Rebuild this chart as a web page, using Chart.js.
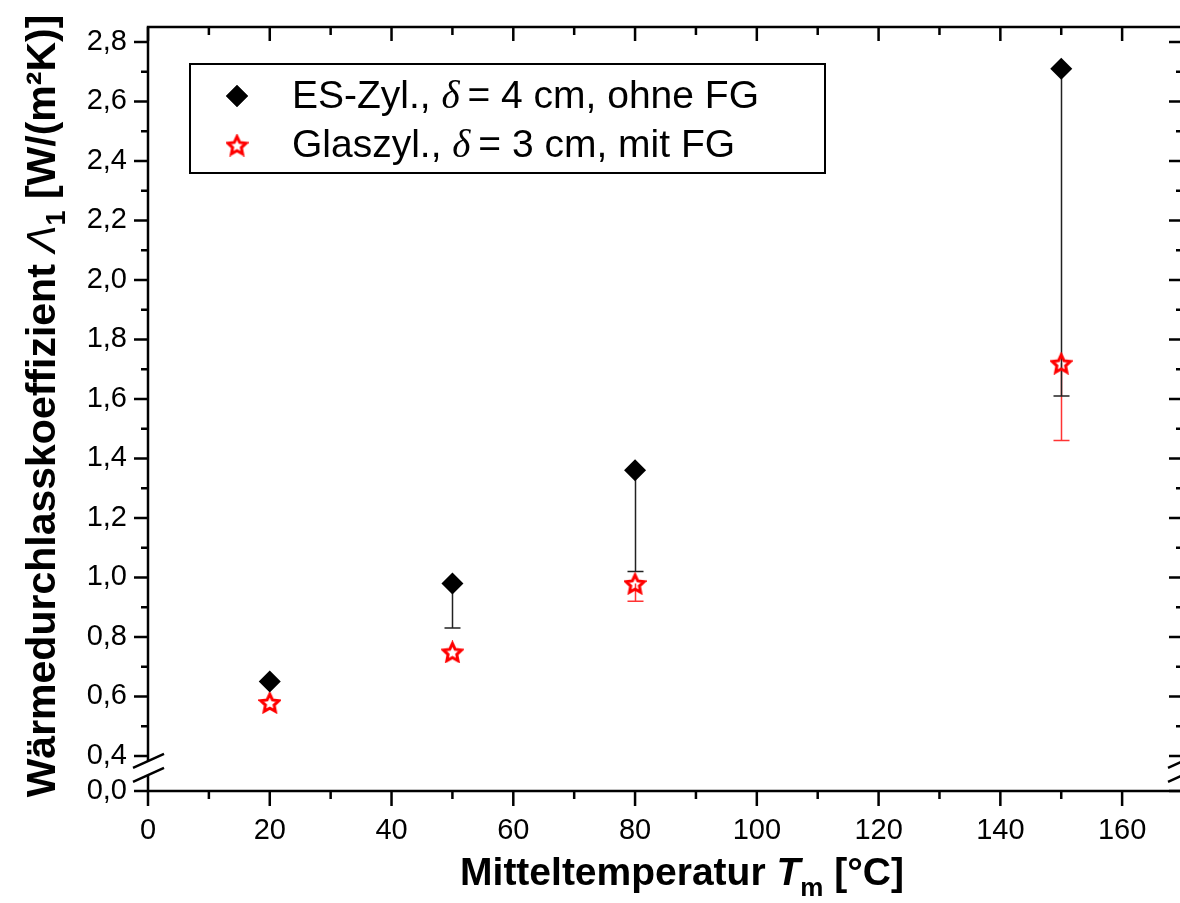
<!DOCTYPE html>
<html>
<head>
<meta charset="utf-8">
<style>
  html, body { margin: 0; padding: 0; background: #fff; overflow: hidden; }
  #wrap { width: 1180px; height: 903px; overflow: hidden; }
  #chart { display: block; }
</style>
</head>
<body>
<div id="wrap"><canvas id="chart" width="1195" height="903"></canvas></div>
<script src="https://cdn.jsdelivr.net/npm/chart.js@4.4.0/dist/chart.umd.min.js"></script>
<script>
// data
const temps = [20, 50, 80, 150];
const esValues = [0.65, 0.98, 1.36, 2.71];
const esLower = [null, 0.83, 1.02, 1.61];
const glasValues = [0.58, 0.75, 0.98, 1.72];
const glasLower = [null, null, 0.92, 1.46];

const seriesLabels = ['ES-Zyl., δ = 4 cm, ohne FG', 'Glaszyl., δ = 3 cm, mit FG'];
const xTicks = [0, 20, 40, 60, 80, 100, 120, 140, 160];
const yTicks = [0.4, 0.6, 0.8, 1.0, 1.2, 1.4, 1.6, 1.8, 2.0, 2.2, 2.4, 2.6, 2.8];
const yBreakValue = 0.2824;   // where "0,0" sits below the axis break
const yBreakLabel = '0,0';

const FONT = "'Liberation Sans', Arial, Helvetica, sans-serif";

function starImage(size, color, lw) {
  const c = document.createElement('canvas');
  c.width = c.height = size;
  const g = c.getContext('2d');
  const cx = size / 2, cy = size / 2 + size * 0.05;
  const R = size / 2 - lw / 2 - 0.5, r = R * 0.48;
  g.beginPath();
  for (let i = 0; i < 10; i++) {
    const a = -Math.PI / 2 + i * Math.PI / 5;
    const rr = i % 2 ? r : R;
    g.lineTo(cx + rr * Math.cos(a), cy + rr * Math.sin(a));
  }
  g.closePath();
  g.strokeStyle = color;
  g.lineWidth = lw;
  g.lineJoin = 'miter';
  g.stroke();
  return c;
}
const redStar = starImage(23, '#ff0000', 3);

function pts(xs, ys) {
  return xs.map((x, i) => ({ x: x, y: ys[i] }));
}

function drawRuns(ctx, runs, x, y, align) {
  let total = 0;
  runs.forEach(r => { ctx.font = r.font; r.w = ctx.measureText(r.text).width; total += r.w; });
  let cx = align === 'center' ? x - total / 2 : x;
  runs.forEach(r => {
    ctx.font = r.font;
    ctx.fillText(r.text, cx, y + (r.dy || 0));
    cx += r.w;
  });
}

function noPad(s) {
  s.paddingLeft = 0; s.paddingRight = 0; s.paddingTop = 0; s.paddingBottom = 0;
}

// error bars (lower side only) under the markers
const errorBars = {
  id: 'errorBars',
  beforeDatasetsDraw(chart) {
    const ctx = chart.ctx, xs = chart.scales.x, ys = chart.scales.y;
    const sets = [[glasValues, glasLower, '#ff3333'], [esValues, esLower, '#222']];
    ctx.save();
    ctx.lineWidth = 1.5;
    sets.forEach(([vals, low, col]) => {
      ctx.strokeStyle = col;
      temps.forEach((t, i) => {
        if (low[i] == null) return;
        const px = Math.round(xs.getPixelForValue(t)) + 0.5;
        const y0 = ys.getPixelForValue(vals[i]);
        const y1 = ys.getPixelForValue(low[i]);
        ctx.beginPath();
        ctx.moveTo(px, y0); ctx.lineTo(px, y1);
        ctx.moveTo(px - 8, y1); ctx.lineTo(px + 8, y1);
        ctx.stroke();
      });
    });
    ctx.restore();
  }
};

// frame, ticks on all four sides, axis break, titles, legend
const decorations = {
  id: 'decorations',
  afterDraw(chart) {
    const ctx = chart.ctx, xs = chart.scales.x, ys = chart.scales.y;
    const a = chart.chartArea;
    const L = a.left, R = a.right, T = a.top, B = a.bottom;
    ctx.save();
    ctx.strokeStyle = '#000';
    ctx.lineCap = 'butt';

    // frame
    ctx.lineWidth = 2.5;
    ctx.strokeRect(L, T, R - L, B - T);

    // y ticks
    const yMinor = [];
    for (let i = 0; i < yTicks.length - 1; i++) yMinor.push((yTicks[i] + yTicks[i + 1]) / 2);
    ctx.lineWidth = 2.5;
    ctx.beginPath();
    [yBreakValue].concat(yTicks).forEach(v => {
      const p = ys.getPixelForValue(v);
      ctx.moveTo(L - 14, p); ctx.lineTo(L, p);
      ctx.moveTo(R - 14, p); ctx.lineTo(R, p);
    });
    yMinor.forEach(v => {
      const p = ys.getPixelForValue(v);
      ctx.moveTo(L - 7, p); ctx.lineTo(L, p);
      ctx.moveTo(R - 7, p); ctx.lineTo(R, p);
    });
    // x ticks
    const xMinor = [];
    for (let i = 0; i < xTicks.length - 1; i++) xMinor.push((xTicks[i] + xTicks[i + 1]) / 2);
    xTicks.forEach(v => {
      const p = xs.getPixelForValue(v);
      ctx.moveTo(p, B); ctx.lineTo(p, B + 15);
      ctx.moveTo(p, T); ctx.lineTo(p, T + 14);
    });
    xMinor.forEach(v => {
      const p = xs.getPixelForValue(v);
      ctx.moveTo(p, B); ctx.lineTo(p, B + 8);
      ctx.moveTo(p, T); ctx.lineTo(p, T + 8);
    });
    ctx.stroke();

    // axis break on left and right
    const yc = ys.getPixelForValue(0.36);
    [L, R].forEach(ax => {
      ctx.fillStyle = '#fff';
      ctx.beginPath();
      ctx.moveTo(ax - 16, yc); ctx.lineTo(ax + 16, yc - 14);
      ctx.lineTo(ax + 16, yc); ctx.lineTo(ax - 16, yc + 14);
      ctx.closePath();
      ctx.fill();
      ctx.lineWidth = 2.5;
      ctx.beginPath();
      ctx.moveTo(ax - 15, yc); ctx.lineTo(ax + 16, yc - 14);
      ctx.moveTo(ax - 15, yc + 14); ctx.lineTo(ax + 16, yc);
      ctx.stroke();
    });

    // titles
    ctx.fillStyle = '#000';
    ctx.textAlign = 'left';
    ctx.textBaseline = 'alphabetic';
    drawRuns(ctx, [
      { text: 'Mitteltemperatur ', font: 'bold 39px ' + FONT },
      { text: 'T', font: 'italic bold 39px ' + FONT },
      { text: 'm', font: 'bold 26px ' + FONT, dy: 11 },
      { text: ' [°C]', font: 'bold 39px ' + FONT }
    ], 682, 885, 'center');

    ctx.save();
    ctx.translate(55, 406);
    ctx.rotate(-Math.PI / 2);
    drawRuns(ctx, [
      { text: 'Wärmedurchlasskoeffizient ', font: 'bold 41px ' + FONT },
      { text: 'Λ', font: 'italic 41px ' + FONT },
      { text: '1', font: 'bold 27px ' + FONT, dy: 10 },
      { text: ' [W/(m²K)]', font: 'bold 41px ' + FONT }
    ], 0, 0, 'center');
    ctx.restore();

    // legend
    ctx.lineWidth = 2;
    ctx.strokeStyle = '#000';
    ctx.strokeRect(190, 64, 635, 109);
    chart.data.datasets.forEach((ds, i) => {
      const my = 96 + i * 49;
      Chart.helpers.drawPoint(ctx, {
        pointStyle: ds.pointStyle,
        radius: ds.pointRadius,
        rotation: 0,
        borderWidth: 0
      }, 237, my);
      if (ds.pointStyle === 'rectRot') {
        ctx.fillStyle = ds.backgroundColor;
        ctx.fill();
      }
      const parts = ds.label.split('δ');
      ctx.fillStyle = '#000';
      drawRuns(ctx, [
        { text: parts[0], font: '39px ' + FONT },
        { text: 'δ', font: "italic 39px 'Liberation Serif', 'Times New Roman', serif" },
        { text: parts[1].replace(/^ /, '\u2009'), font: '39px ' + FONT }
      ], 292, 108 + i * 49, 'left');
    });
    ctx.restore();
  }
};

new Chart(document.getElementById('chart'), {
  type: 'scatter',
  data: {
    datasets: [
      {
        label: seriesLabels[0],
        data: pts(temps, esValues),
        pointStyle: 'rectRot',
        pointRadius: 11,
        pointHoverRadius: 11,
        backgroundColor: '#000',
        borderColor: '#000',
        borderWidth: 0
      },
      {
        label: seriesLabels[1],
        data: pts(temps, glasValues),
        pointStyle: redStar,
        pointRadius: 11,
        backgroundColor: '#ff0000',
        borderColor: '#ff0000'
      }
    ]
  },
  options: {
    responsive: false,
    animation: false,
    devicePixelRatio: 1,
    layout: { padding: { top: 27, right: 0, left: 0, bottom: 0 } },
    plugins: {
      legend: { display: false },
      tooltip: { enabled: false }
    },
    scales: {
      x: {
        type: 'linear',
        min: 0,
        max: 170,
        afterBuildTicks: s => { s.ticks = xTicks.map(v => ({ value: v })); },
        afterFit: s => { s.height = 112; noPad(s); },
        grid: { display: true, drawOnChartArea: false, drawTicks: true, tickLength: 14, color: 'rgba(0,0,0,0)' },
        border: { display: false },
        ticks: {
          autoSkip: false,
          maxRotation: 0,
          padding: 9,
          color: '#000',
          font: { family: FONT, size: 29 },
          callback: v => String(v)
        }
      },
      y: {
        type: 'linear',
        min: yBreakValue,
        max: 2.850,
        afterBuildTicks: s => { s.ticks = [yBreakValue].concat(yTicks).map(v => ({ value: v })); },
        afterFit: s => { s.width = 148; noPad(s); },
        grid: { display: true, drawOnChartArea: false, drawTicks: true, tickLength: 14, color: 'rgba(0,0,0,0)' },
        border: { display: false },
        ticks: {
          autoSkip: false,
          padding: 7,
          color: '#000',
          font: { family: FONT, size: 29 },
          callback: v => v < 0.35 ? yBreakLabel : v.toFixed(1).replace('.', ',')
        }
      }
    }
  },
  plugins: [errorBars, decorations]
});
</script>
</body>
</html>
